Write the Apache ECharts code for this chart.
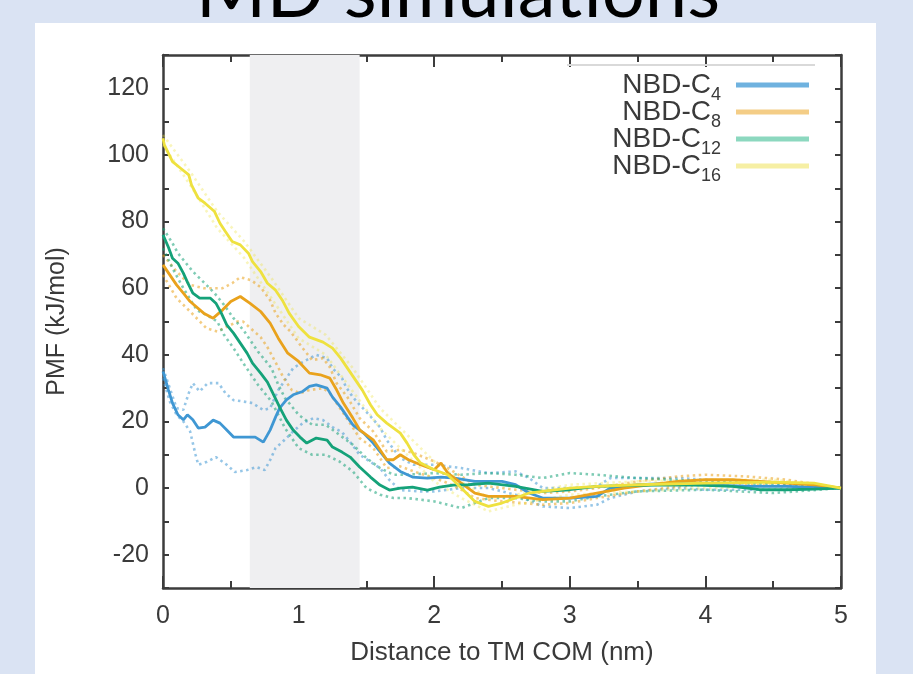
<!DOCTYPE html>
<html>
<head>
<meta charset="utf-8">
<script src="https://cdn.jsdelivr.net/npm/echarts@6/dist/echarts.min.js"></script>
<style>
html,body{margin:0;padding:0;background:#dae3f3;}
#chart{width:913px;height:674px;}
</style>
</head>
<body>
<div id="chart"></div>
<script>
// ---- Data ----
var titleText = 'MD simulations';
var xAxisName = 'Distance to TM COM (nm)';
var yAxisName = 'PMF (kJ/mol)';
var legendBase = ['NBD-C', 'NBD-C', 'NBD-C', 'NBD-C'];
var legendSubs = ['4', '8', '12', '16'];
var seriesNames = ['NBD-C4', 'NBD-C8', 'NBD-C12', 'NBD-C16'];
var shadedRange = [0.64, 1.45];

// NBD-C4 (blue)
var c4X = [0,0.04,0.07,0.11,0.15,0.18,0.22,0.26,0.31,0.37,0.42,0.47,0.52,0.62,0.68,0.74,0.79,0.83,0.86,0.91,0.96,1.03,1.08,1.13,1.21,1.25,1.31,1.36,1.4,1.48,1.55,1.61,1.67,1.75,1.84,1.95,2.05,2.15,2.3,2.5,2.6,2.7,2.8,3.0,3.2,3.3,3.5,3.8,4.0,4.3,4.6,5.0];
var c4Y = [35,29.5,25.5,22,20.5,22,20.5,18,18.3,20.4,19.5,17.4,15.3,15.3,15.3,13.8,17.4,21.3,24,26.5,28,29,30.5,31,30,27.3,24.3,21.3,19,16.5,13.5,10.5,7.5,5,3.3,3,3.3,3,2,2,1,-1.5,-3,-3,-2.5,0,1,1.5,1,0.5,0.5,0];
var c4UpX = [0,0.05,0.1,0.15,0.19,0.22,0.27,0.33,0.41,0.46,0.52,0.59,0.66,0.74,0.79,0.85,0.91,0.96,1.03,1.13,1.21,1.25,1.32,1.35,1.4,1.45,1.52,1.6,1.65,1.75,1.85,2.0,2.2,2.4,2.6,2.7,2.8,3.0,3.2,3.3,3.5,3.8,4.0,4.5,5.0];
var c4UpY = [36,30,24,23.5,28.5,31.5,29,31.5,31.5,28.5,26.4,26,25.5,23.4,24,29.4,33,36,37.8,40,39,36,33,30.3,27.3,25,22,18.3,14.4,9,7,7,6,4.5,5,3,0,0,0.5,3,3,3,2.5,1.5,0];
var c4LoX = [0,0.05,0.1,0.15,0.2,0.22,0.24,0.26,0.32,0.39,0.47,0.53,0.62,0.69,0.75,0.79,0.83,0.88,0.96,1.03,1.11,1.18,1.25,1.32,1.38,1.45,1.6,1.67,1.75,1.9,2.0,2.2,2.4,2.6,2.8,3.0,3.2,3.3,3.5,3.8,4.0,4.5,5.0];
var c4LoY = [33,26,22,20,17,13.5,10,7,7.8,9.3,7,4.8,5.4,6.3,5.4,8.4,12,13.8,17,19.5,21,20.4,18.3,16.8,13.8,10,6,2.4,-0.6,-1,-1,0,0,-2,-5.5,-6,-5,-3,-1,0,-0.5,-0.5,0];

// NBD-C8 (orange)
var c8X = [0,0.05,0.1,0.15,0.2,0.3,0.37,0.44,0.5,0.57,0.64,0.72,0.79,0.85,0.92,1.0,1.08,1.16,1.23,1.28,1.33,1.4,1.45,1.55,1.6,1.65,1.7,1.75,1.81,1.9,2.0,2.05,2.1,2.2,2.3,2.4,2.6,2.8,3.0,3.2,3.4,3.6,3.8,4.0,4.2,4.4,4.6,4.8,5.0];
var c8Y = [67,64,61,58.5,56,52.5,51,53.5,56,57.5,55.5,53,49.5,45,40.5,38,34.5,34,33,29.5,25.5,21,17.5,14.5,11.5,8.5,8.5,10,8.5,7,5.5,7.5,4.5,1.5,-1.5,-2.5,-2.5,-3.5,-3,-1.5,0,1,2,2.5,2.5,2,1.5,1,0];
var c8UpX = [0,0.1,0.2,0.3,0.44,0.51,0.57,0.65,0.72,0.79,0.83,0.89,0.94,1.03,1.1,1.18,1.23,1.28,1.36,1.45,1.55,1.65,1.75,1.85,2.0,2.1,2.2,2.3,2.5,2.8,3.0,3.2,3.5,3.8,4.0,4.3,4.6,5.0];
var c8UpY = [70,65,61,60,60,61.5,63.3,62.4,60.3,56.4,52.5,49,47,42,38.4,39,36.3,31.5,27.3,21,17,11,11.5,10.5,8,6,3.5,1,0,-1.5,-1,0,2,3.5,4,3.5,2.5,0];
var c8LoX = [0,0.1,0.2,0.32,0.4,0.55,0.59,0.72,0.77,0.84,0.89,0.95,1.01,1.08,1.18,1.23,1.3,1.35,1.45,1.55,1.65,1.75,1.85,2.0,2.1,2.2,2.3,2.5,2.8,3.0,3.2,3.5,3.8,4.0,4.3,4.6,5.0];
var c8LoY = [64,57,53,48,47,50,50,45.3,42.3,37,33,29.4,28.5,29.4,30,28.5,24.3,21.3,15,12,6,6.5,5,3,1.5,-0.5,-3,-4,-5,-4.5,-3,-1,0.5,1,1,0.5,0];

// NBD-C12 (green)
var c12X = [0,0.04,0.07,0.11,0.15,0.18,0.22,0.27,0.35,0.39,0.43,0.47,0.52,0.57,0.62,0.66,0.72,0.77,0.81,0.86,0.91,0.96,1.01,1.06,1.13,1.21,1.25,1.32,1.38,1.45,1.53,1.6,1.67,1.75,1.84,1.95,2.04,2.14,2.25,2.4,2.6,2.8,3.0,3.2,3.5,3.8,4.0,4.2,4.4,4.6,4.8,5.0];
var c12Y = [76,72.3,69,67.5,64.5,61.8,58.5,57,57,55.5,52.5,49,46.5,43.5,40.5,37.5,34.5,31.8,28.5,24.3,20.4,17.4,15.3,13.5,15,14.4,12.3,10.8,9.3,6.3,3.3,0.9,-0.6,0,0.3,-0.6,0.3,0.9,1,1.5,0.5,-1,-0.5,0.5,0.8,1,0.8,0.5,-0.5,-0.5,-0.3,0];
var c12UpX = [0,0.07,0.11,0.22,0.32,0.38,0.45,0.52,0.6,0.7,0.8,0.85,0.9,1.0,1.1,1.2,1.3,1.4,1.5,1.6,1.7,1.8,2.0,2.2,2.4,2.6,2.8,3.0,3.2,3.5,4.0,4.5,5.0];
var c12UpY = [78,73.5,70.5,65,61,58.5,55,51,47,41,36,31,27,22,19,19,16,13,9,6,4,4,4.5,4,4.5,4,3,4.5,4,3,2,1,0];
var c12LoX = [0,0.07,0.15,0.25,0.32,0.4,0.45,0.52,0.6,0.7,0.8,0.9,1.0,1.1,1.2,1.3,1.4,1.5,1.6,1.7,1.8,2.0,2.2,2.4,2.6,2.8,3.0,3.2,3.5,4.0,4.5,5.0];
var c12LoY = [72,66,60,53.4,52,50,46,42,37,31,26,18,12,10,10,8,5,0,-2,-3,-3,-4,-6,-3,-3,-4,-4,-2.5,-1,-0.5,-1.5,0];

// NBD-C16 (yellow)
var c16X = [0,0.01,0.07,0.13,0.19,0.21,0.26,0.31,0.38,0.42,0.46,0.51,0.57,0.63,0.66,0.72,0.77,0.83,0.88,0.93,1.0,1.08,1.18,1.25,1.31,1.36,1.42,1.47,1.53,1.58,1.65,1.75,1.8,1.85,1.9,2.0,2.1,2.2,2.3,2.4,2.5,2.6,2.7,2.8,3.0,3.2,3.5,4.0,4.5,4.8,5.0];
var c16Y = [105,103,98,96,94,91,87,85.5,83,79.5,77,74,73,70.5,68,65,61.5,59.4,56.4,52.5,48.5,45.3,43.8,42,39,36,32.4,29.4,25,22,19.5,16.5,13.5,10,7.5,5.5,4,0,-4,-5.5,-4.5,-3,-1.5,-1,0,0.5,1,1.5,1.8,1.5,0];
var c16BandX = [0,0.2,0.4,0.6,0.8,1.0,1.2,1.4,1.6,1.8,2.0,2.2,2.4,2.6,3.0,3.5,4.0,4.5,5.0];
var c16UpY = [106,95,83,74,63,51,46,36,24,16,8,2,-3,-2,1,2,2.5,2.5,0];
var c16LoY = [103,91,78,69,57,45,40,29,18,10,2,-3,-7,-5,-2,-1,0,0.5,0];

// ---- Styling ----
var mainColors = ['#3f97d3', '#e9a21c', '#15a279', '#eee13f'];
var legendColors = ['#6fb2df', '#f4cd86', '#8cd8bf', '#f6efa4'];
var FONT = '"Liberation Sans", Arial, sans-serif';

function pts(xs, ys) {
  var out = [];
  for (var i = 0; i < xs.length; i++) out.push([xs[i], ys[i]]);
  return out;
}

var groups = [
  {main: pts(c4X, c4Y), up: pts(c4UpX, c4UpY), lo: pts(c4LoX, c4LoY), op: 0.55},
  {main: pts(c8X, c8Y), up: pts(c8UpX, c8UpY), lo: pts(c8LoX, c8LoY), op: 0.55},
  {main: pts(c12X, c12Y), up: pts(c12UpX, c12UpY), lo: pts(c12LoX, c12LoY), op: 0.55},
  {main: pts(c16X, c16Y), up: pts(c16BandX, c16UpY), lo: pts(c16BandX, c16LoY), op: 0.35}
];

var series = [];
series.push({
  type: 'line', name: 'band', data: [], silent: true, z: 1,
  markArea: {
    silent: true,
    itemStyle: {color: '#efeff1'},
    data: [[{xAxis: shadedRange[0]}, {xAxis: shadedRange[1]}]]
  }
});
groups.forEach(function (g, i) {
  ['up', 'lo'].forEach(function (k) {
    series.push({
      type: 'line', name: seriesNames[i] + '-' + k, data: g[k],
      showSymbol: false, symbol: 'none', z: 2, silent: true,
      lineStyle: {color: mainColors[i], width: 2.6, type: [2.5, 3.5], opacity: g.op}
    });
  });
});
groups.forEach(function (g, i) {
  series.push({
    type: 'line', name: seriesNames[i], data: g.main,
    showSymbol: false, symbol: 'none', z: 3, silent: true,
    color: mainColors[i],
    lineStyle: {color: mainColors[i], width: 2.8}
  });
});

var axisLineStyle = {color: '#3c3c3c', width: 2.5};
function xAx(pos) {
  return {
    type: 'value', position: pos, min: 0, max: 5, interval: 1,
    axisLine: {show: true, onZero: false, lineStyle: axisLineStyle},
    axisTick: {show: true, inside: true, length: 12, lineStyle: {color: '#3c3c3c', width: 2}},
    minorTick: {show: true, splitNumber: 2, length: 7, lineStyle: {color: '#3c3c3c', width: 2}},
    splitLine: {show: false},
    axisLabel: {show: pos === 'bottom', fontFamily: FONT, fontSize: 25, color: '#3a3a3a', margin: 16},
    name: pos === 'bottom' ? xAxisName : '',
    nameLocation: 'middle', nameGap: 52,
    nameTextStyle: {fontFamily: FONT, fontSize: 26, color: '#3a3a3a'}
  };
}
function yAx(pos) {
  return {
    type: 'value', position: pos, min: -30, max: 130, interval: 10,
    axisLine: {show: true, onZero: false, lineStyle: axisLineStyle},
    axisTick: {show: true, inside: true, length: 6, lineStyle: {color: '#3c3c3c', width: 2}},
    splitLine: {show: false},
    axisLabel: {
      show: pos === 'left', fontFamily: FONT, fontSize: 25, color: '#3a3a3a', margin: 14,
      formatter: function (v) { return (v % 20 === 0 && v >= -20 && v <= 120) ? String(v) : ''; }
    },
    name: pos === 'left' ? yAxisName : '',
    nameLocation: 'middle', nameGap: 93, nameRotate: 90,
    nameTextStyle: {fontFamily: FONT, fontSize: 25, color: '#3a3a3a'}
  };
}

var chart = echarts.init(document.getElementById('chart'), null, {renderer: 'canvas'});
chart.setOption({
  backgroundColor: '#dae3f3',
  animation: false,
  graphic: [
    {type: 'rect', z: -10, silent: true, shape: {x: 35, y: 23, width: 841, height: 651}, style: {fill: '#ffffff'}},
    {type: 'text', z: 10, silent: true, x: 458, y: 30,
     style: {text: titleText, fontFamily: 'Lato, "Noto Sans", sans-serif', fontSize: 76, fill: '#000', align: 'center', verticalAlign: 'bottom'}},
    {type: 'line', z: 5, silent: true, shape: {x1: 567, y1: 65, x2: 815, y2: 65}, style: {stroke: '#d9d9d9', lineWidth: 2}}
  ],
  grid: {left: 163, right: 72, top: 55, bottom: 86, containLabel: false},
  xAxis: [xAx('bottom'), xAx('top')],
  yAxis: [yAx('left'), yAx('right')],
  legend: {
    orient: 'vertical', right: 99, top: 66, align: 'right',
    itemWidth: 73, itemHeight: 5, itemGap: -6, icon: 'rect',
    data: seriesNames.map(function (n, i) {
      return {name: n, itemStyle: {color: legendColors[i]}};
    }),
    formatter: function (name) {
      var i = seriesNames.indexOf(name);
      return legendBase[i] + '{s|' + legendSubs[i] + '}';
    },
    textStyle: {
      fontFamily: FONT, fontSize: 28, color: '#3a3a3a', lineHeight: 26, padding: [0, 10, 0, 0],
      rich: {s: {fontFamily: FONT, fontSize: 18, color: '#3a3a3a', lineHeight: 17, padding: [14, 0, 0, 0], verticalAlign: 'top'}}
    }
  },
  series: series
});
</script>
</body>
</html>
